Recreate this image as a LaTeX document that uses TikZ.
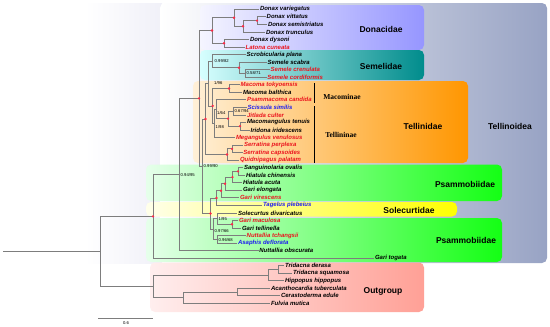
\documentclass[tikz,border=0pt]{standalone}
\usepackage{fontspec}
\setmainfont{Liberation Sans}
\newfontfamily\serifbf{Liberation Serif}
\usetikzlibrary{shadings}
\definecolor{treegray}{RGB}{125,125,125}
\definecolor{dotred}{RGB}{255,40,70}
\definecolor{txtred}{RGB}{235,20,30}
\definecolor{txtblue}{RGB}{30,30,240}
\definecolor{tellR}{RGB}{152,163,196}
\definecolor{faint}{RGB}{240,240,248}
\definecolor{donL}{RGB}{245,245,255}
\definecolor{donR}{RGB}{150,150,255}
\definecolor{semL}{RGB}{215,255,255}
\definecolor{semM}{RGB}{0,205,205}
\definecolor{semR}{RGB}{0,140,140}
\definecolor{telL}{RGB}{255,240,215}
\definecolor{telM}{RGB}{255,200,120}
\definecolor{telR}{RGB}{255,150,0}
\definecolor{psaL}{RGB}{230,255,235}
\definecolor{psaM}{RGB}{60,250,130}
\definecolor{psaR}{RGB}{20,255,20}
\definecolor{solL}{RGB}{255,255,235}
\definecolor{solR}{RGB}{255,255,0}
\definecolor{outL}{RGB}{255,238,238}
\definecolor{outR}{RGB}{255,160,150}
\begin{document}
\begin{tikzpicture}[x=1pt,y=-1pt,
  br/.style={draw=treegray, line width=0.7pt},
  leaf/.style={anchor=west, inner sep=0.6pt, font=\fontsize{6}{6}\selectfont\bfseries\itshape},
  rl/.style={leaf, text=txtred},
  bl/.style={leaf, text=txtblue},
  sup/.style={anchor=west, inner sep=0pt, font=\fontsize{4.2}{4.2}\selectfont},
  fam/.style={font=\fontsize{8.5}{8.5}\selectfont\bfseries, inner sep=0pt},
  subfam/.style={font=\fontsize{7.5}{7.5}\serifbf\bfseries, inner sep=0pt},
  dot/.style={circle, fill=dotred, inner sep=0pt, minimum size=2.6pt},
  box/.style={rounded corners=5pt}
]
\useasboundingbox (0,0) rectangle (550,327);

% background boxes
\shade[left color=white, right color=faint] (85,3) rectangle (162,263);
\shade[box, left color=white, right color=tellR] (160,3) rectangle (547,263);
\shade[box, left color=donL, right color=donR] (200,5) rectangle (424,50);
\shade[box, left color=semL, middle color=semM, right color=semR] (200,50) rectangle (424,80);
\shade[box, left color=telL, middle color=telM, right color=telR] (193,81) rectangle (468,163);
\shade[box, left color=psaL, middle color=psaM, right color=psaR] (146,164.5) rectangle (502,201);
\shade[box, left color=solL, right color=solR] (146,202) rectangle (457,216.5);
\shade[box, left color=psaL, middle color=psaM, right color=psaR] (146,218) rectangle (502,262);
\shade[box, left color=outL, right color=outR] (150,262.5) rectangle (424,312);

% group labels
\node[fam] (fDon) at (381,29) {Donacidae};
\node[fam] (fSem) at (381,66) {Semelidae};
\node[fam] (fTel) at (423,126) {Tellinidae};
\node[fam] (fToid) at (510,126) {Tellinoidea};
\node[fam] (fPs1) at (465,184) {Psammobiidae};
\node[fam] (fSol) at (409,210) {Solecurtidae};
\node[fam] (fPs2) at (466,240) {Psammobiidae};
\node[fam] (fOut) at (383,291) {Outgroup};
\node[subfam] (sMac) at (342,97) {Macominae};
\node[subfam] (sTel) at (341,135) {Tellininae};
\draw[line width=0.6pt] (314,83) -- (314,103);
\draw[line width=0.6pt] (314,106) -- (314,163);

% leaves
\node[leaf] (l1) at (259.2,9.3) {Donax variegatus};
\node[leaf] (l2) at (265.9,16.8) {Donax vittatus};
\node[leaf] (l3) at (267.2,24.4) {Donax semistriatus};
\node[leaf] (l4) at (265.2,31.9) {Donax trunculus};
\node[leaf] (l5) at (249.2,39.5) {Donax dysoni};
\node[rl] (l6) at (244.9,47.0) {Latona cuneata};
\node[leaf] (l7) at (245.9,54.5) {Scrobicularia plana};
\node[leaf] (l8) at (266.9,62.1) {Semele scabra};
\node[rl] (l9) at (269.9,69.6) {Semele crenulata};
\node[rl] (l10) at (266.5,77.2) {Semele cordiformis};
\node[rl] (l11) at (239.9,84.7) {Macoma tokyoensis};
\node[leaf] (l12) at (242.2,92.2) {Macoma balthica};
\node[rl] (l13) at (246.2,99.8) {Psammacoma candida};
\node[bl] (l14) at (246.9,107.3) {Scissula similis};
\node[rl] (l15) at (246.2,114.9) {Jitlada culter};
\node[leaf] (l16) at (246.2,122.4) {Macomangulus tenuis};
\node[leaf] (l17) at (249.9,129.9) {Iridona iridescens};
\node[rl] (l18) at (235.2,137.5) {Megangulus venulosus};
\node[rl] (l19) at (243.2,145.0) {Serratina perplexa};
\node[rl] (l20) at (242.5,152.6) {Serratina capsoides};
\node[rl] (l21) at (239.2,160.1) {Quidnipagus palatam};
\node[leaf] (l22) at (243.2,167.6) {Sanguinolaria ovalis};
\node[leaf] (l23) at (245.2,175.2) {Hiatula chinensis};
\node[leaf] (l24) at (242.2,182.7) {Hiatula acuta};
\node[leaf] (l25) at (242.2,190.3) {Gari elongata};
\node[rl] (l26) at (239.2,197.8) {Gari virescens};
\node[bl] (l27) at (262.2,205.3) {Tagelus plebeius};
\node[leaf] (l28) at (237.2,212.9) {Solecurtus divaricatus};
\node[rl] (l29) at (238.2,220.4) {Gari maculosa};
\node[leaf] (l30) at (241.2,228.0) {Gari tellinella};
\node[rl] (l31) at (245.9,235.5) {Nuttallia tchangsii};
\node[bl] (l32) at (237.2,243.0) {Asaphis deflorata};
\node[leaf] (l33) at (258.5,250.6) {Nuttallia obscurata};
\node[leaf] (l34) at (374.2,258.1) {Gari togata};
\node[leaf] (l35) at (284.2,265.7) {Tridacna derasa};
\node[leaf] (l36) at (292.2,273.2) {Tridacna squamosa};
\node[leaf] (l37) at (284.2,280.7) {Hippopus hippopus};
\node[leaf] (l38) at (270.2,288.3) {Acanthocardia tuberculata};
\node[leaf] (l39) at (280.2,295.8) {Cerastoderma edule};
\node[leaf] (l40) at (270.2,303.4) {Fulvia mutica};

% internal nodes
\coordinate (D4) at (257,20.6);
\coordinate (D3) at (243,26.25);
\coordinate (D1) at (234,17.78);
\coordinate (D2) at (224,43.25);
\coordinate (Don) at (212,30.5);
\coordinate (S3) at (245,73.4);
\coordinate (S2) at (239,67.75);
\coordinate (Sem) at (212.7,61.1);
\coordinate (Mac) at (229,88.45);
\coordinate (T4) at (233,111.1);
\coordinate (T5) at (240,126.15);
\coordinate (T3) at (228,118.6);
\coordinate (T2) at (216,109.2);
\coordinate (T1) at (214,123.35);
\coordinate (Tel) at (212.7,105.9);
\coordinate (N208) at (208,83.5);
\coordinate (Sa) at (232,148.8);
\coordinate (Sr) at (227,154.45);
\coordinate (N206) at (205.5,118.98);
\coordinate (U5) at (238,171.4);
\coordinate (U4) at (232.5,177.05);
\coordinate (U3) at (225,183.7);
\coordinate (U2) at (221,190.75);
\coordinate (U1) at (216.5,198.0);
\coordinate (L4) at (232,224.2);
\coordinate (L2) at (217,218.55);
\coordinate (L3) at (217,239.25);
\coordinate (L) at (213,228.9);
\coordinate (NPs) at (210.5,213.45);
\coordinate (N202) at (202,166.2);
\coordinate (N199) at (199,98.35);
\coordinate (N179) at (179,174.5);
\coordinate (Ing) at (153,216.3);
\coordinate (O1a) at (278,269.45);
\coordinate (O1) at (268,275.1);
\coordinate (O2a) at (237,292.05);
\coordinate (O2) at (183,297.7);
\coordinate (Og) at (153,286.4);
\coordinate (Root) at (100,251.35);
\coordinate (R0) at (3,251.35);

% branches
\draw[br] (R0) -- (Root);
\draw[br] (Root) |- (Ing); \draw[br] (Root) |- (Og);
\draw[br] (Ing) |- (N179); \draw[br] (Ing) |- (l34.west);
\draw[br] (N179) |- (N199); \draw[br] (N179) |- (l33.west);
\draw[br] (N199) |- (Don); \draw[br] (N199) |- (N202);
\draw[br] (Don) |- (D1); \draw[br] (Don) |- (D2);
\draw[br] (D1) |- (l1.west); \draw[br] (D1) |- (D3);
\draw[br] (D3) |- (D4); \draw[br] (D3) |- (l4.west);
\draw[br] (D4) |- (l2.west); \draw[br] (D4) |- (l3.west);
\draw[br] (D2) |- (l5.west); \draw[br] (D2) |- (l6.west);
\draw[br] (N202) |- (N206); \draw[br] (N202) |- (NPs);
\draw[br] (N206) |- (N208); \draw[br] (N206) |- (Sr);
\draw[br] (N208) |- (Sem); \draw[br] (N208) |- (Tel);
\draw[br] (Sem) |- (l7.west); \draw[br] (Sem) |- (S2);
\draw[br] (S2) |- (l8.west); \draw[br] (S2) |- (S3);
\draw[br] (S3) |- (l9.west); \draw[br] (S3) |- (l10.west);
\draw[br] (Tel) |- (Mac); \draw[br] (Tel) |- (T1);
\draw[br] (Mac) |- (l11.west); \draw[br] (Mac) |- (l12.west);
\draw[br] (T1) |- (T2); \draw[br] (T1) |- (l18.west);
\draw[br] (T2) |- (l13.west); \draw[br] (T2) |- (T3);
\draw[br] (T3) |- (T4); \draw[br] (T3) |- (T5);
\draw[br] (T4) |- (l14.west); \draw[br] (T4) |- (l15.west);
\draw[br] (T5) |- (l16.west); \draw[br] (T5) |- (l17.west);
\draw[br] (Sr) |- (Sa); \draw[br] (Sr) |- (l21.west);
\draw[br] (Sa) |- (l19.west); \draw[br] (Sa) |- (l20.west);
\draw[br] (NPs) |- (U1); \draw[br] (NPs) |- (L);
\draw[br] (U1) |- (U2); \draw[br] (U1) |- (l27.west);
\draw[br] (U2) |- (U3); \draw[br] (U2) |- (l26.west);
\draw[br] (U3) |- (U4); \draw[br] (U3) |- (l25.west);
\draw[br] (U4) |- (U5); \draw[br] (U4) |- (l24.west);
\draw[br] (U5) |- (l22.west); \draw[br] (U5) |- (l23.west);
\draw[br] (L) |- (L2); \draw[br] (L) |- (L3);
\draw[br] (L2) |- (l28.west); \draw[br] (L2) |- (L4);
\draw[br] (L4) |- (l29.west); \draw[br] (L4) |- (l30.west);
\draw[br] (L3) |- (l31.west); \draw[br] (L3) |- (l32.west);
\draw[br] (Og) |- (O1); \draw[br] (Og) |- (O2);
\draw[br] (O1) |- (O1a); \draw[br] (O1) |- (l37.west);
\draw[br] (O1a) |- (l35.west); \draw[br] (O1a) |- (l36.west);
\draw[br] (O2) |- (O2a); \draw[br] (O2) |- (l40.west);
\draw[br] (O2a) |- (l38.west); \draw[br] (O2a) |- (l39.west);

% full-support dots
\foreach \n in {Ing,N199,Don,D1,D3,D4,D2,S2,Mac,Tel,N206,T3,T5,Sa,Sr,U1,U2,U3,U4,U5,NPs,L4}
  \node[dot] (dot\n) at (\n) {};

% support values
\node[sup] (v1) at (180.5,174.5) {0.94/95};
\node[sup] (v2) at (203.5,166) {0.99/90};
\node[sup] (v3) at (214.5,61) {0.99/82};
\node[sup] (v4) at (246.5,72.6) {0.58/71};
\node[sup] (v5) at (214,83) {1/96};
\node[sup] (v6) at (217,112.5) {1/64};
\node[sup] (v7) at (215.5,126.5) {1/98};
\node[sup] (v8) at (234.5,111.1) {0.67/94};
\node[sup] (v9) at (218.5,218.5) {1/95};
\node[sup] (v10) at (214.5,231.3) {0.97/66};
\node[sup] (v11) at (218.5,239.6) {0.96/68};

% scale bar
\coordinate (sb1) at (98,318.5);
\coordinate (sb2) at (153,318.5);
\draw[br] (sb1) -- (sb2);
\node[sup, anchor=center] (sbl) at (126,323.5) {0.6};
\end{tikzpicture}
\end{document}
